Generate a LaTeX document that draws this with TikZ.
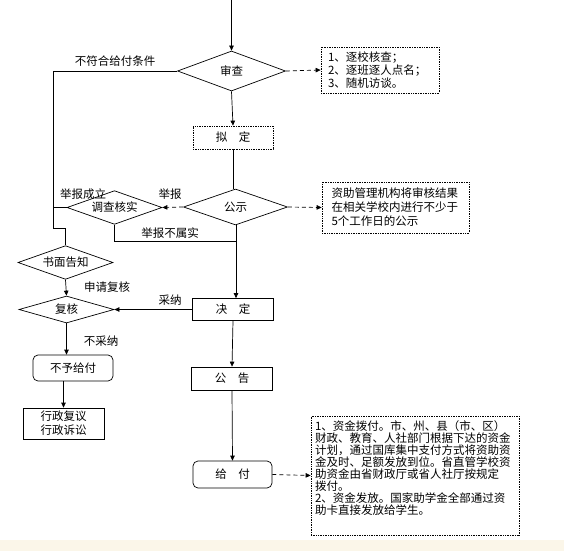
\documentclass[tikz,border=0pt]{standalone}
\usepackage{fontspec}
\usepackage{tikz}
\usetikzlibrary{shapes.geometric,arrows.meta}
\newfontfamily\cjk{Noto Sans CJK SC}
\definecolor{band}{RGB}{251,246,233}

\begin{document}
\begin{tikzpicture}[x=1pt, y=-1pt,
    font=\cjk\fontsize{11.5}{12}\selectfont,
    >={Triangle[length=5pt,width=4.5pt]},
    line width=0.7pt,
    dia/.style={draw, diamond, aspect=2, inner sep=0pt},
    box/.style={draw, rectangle, inner sep=0pt},
    rbox/.style={draw, rectangle, rounded corners=5pt, inner sep=0pt},
    note/.style={draw, densely dotted, rectangle, align=left, inner sep=0pt},
    dashline/.style={dash pattern=on 4pt off 3pt}]
    \useasboundingbox (0,0) rectangle (564,551);
    \fill[band] (0,540) rectangle (564,551);

    \node[dia, minimum width=108, minimum height=40] (sc) at (231.5,71) {审查};
    \node[note, minimum width=118, minimum height=46, text width=104,
          font=\cjk\fontsize{11.5}{13}\selectfont] (n1) at (380,70)
        {1、逐校核查；\\2、逐班逐人点名；\\3、随机访谈。};
    \node[box, densely dotted, minimum width=80, minimum height=23] (nd) at (233,137.5) {拟\quad 定};

    \node[dia, minimum width=104, minimum height=36] (gs) at (235.5,207) {公示};
    \node[note, minimum width=147, minimum height=51, text width=128,
          font=\cjk\fontsize{11.5}{14}\selectfont] (n2) at (395.5,207.5)
        {资助管理机构将审核结果\\在相关学校内进行不少于\\5个工作日的公示};
    \node[dia, minimum width=95, minimum height=29] (dc) at (114.5,207.5) {调查核实};
    \node[dia, minimum width=95, minimum height=29] (sm) at (65.5,262.5) {书面告知};
    \node[dia, minimum width=95, minimum height=27] (fh) at (66.5,309.5) {复核};

    \node[box, minimum width=81, minimum height=22] (jd) at (233,309.5) {决\quad 定};
    \node[box, minimum width=81, minimum height=23] (gg) at (232,378.5) {公\quad 告};
    \node[rbox, minimum width=79, minimum height=27] (gf) at (232.5,474.5) {给\quad 付};
    \node[note, minimum width=208, minimum height=119, text width=200,
          font=\cjk\fontsize{11.5}{12}\selectfont] (n3) at (415,475.5)
        {1、资金拨付。市、州、县（市、区）\\财政、教育、人社部门根据下达的资金\\计划，通过国库集中支付方式将资助资\\金及时、足额发放到位。省直管学校资\\助资金由省财政厅或省人社厅按规定\\拨付。\\2、资金发放。国家助学金全部通过资\\助卡直接发放给学生。\\[3pt]\mbox{}};

    \node[rbox, minimum width=80, minimum height=26] (by) at (73,368) {不予给付};
    \node[box, minimum width=81, minimum height=31, align=center,
          font=\cjk\fontsize{11.5}{14}\selectfont] (xz) at (63.5,423.5) {行政复议\\行政诉讼};

    \node (t1) at (115,61) {不符合给付条件};
    \node (t2) at (83,194) {举报成立};
    \node (t3) at (170,194) {举报};
    \node (t4) at (170,233) {举报不属实};
    \node (t5) at (107,287) {申请复核};
    \node (t6) at (170,300) {采纳};
    \node (t7) at (101,341) {不采纳};

    \coordinate (top) at (231.5,0);
    \coordinate (k1) at (53,228);
    \coordinate (k2) at (236,241);

    \draw[->] (top) -- (sc.north);
    \draw[->] (sc.south) -- (nd.north);
    \draw[->, dashline] (sc.east) -- (n1.west);
    \draw (nd.south) -- (nd.south |- gs.north);
    \draw[->, dashline] (gs.east) -- (n2.west);
    \draw[->, dashline] (gs.west) -- (dc.east);
    \draw (sc.west) -| (k1) -| (sm.north);
    \draw (dc.west) -- (dc.west -| k1);
    \draw (dc.south) |- (k2);
    \draw[->] (gs.south -| k2) -- (k2 |- jd.north);
    \draw[->] (jd.west) -- (fh.east);
    \draw[->] (sm.south) -- (fh.north);
    \draw[->] (fh.south) -- (fh.south |- by.north);
    \draw[->] (xz.north |- by.south) -- (xz.north);
    \draw[->] (jd.south) -- (gg.north);
    \draw[->] (gg.south) -- (gf.north);
    \draw[->, dashline] (gf.east) -- (n3.west);
\end{tikzpicture}
\end{document}
